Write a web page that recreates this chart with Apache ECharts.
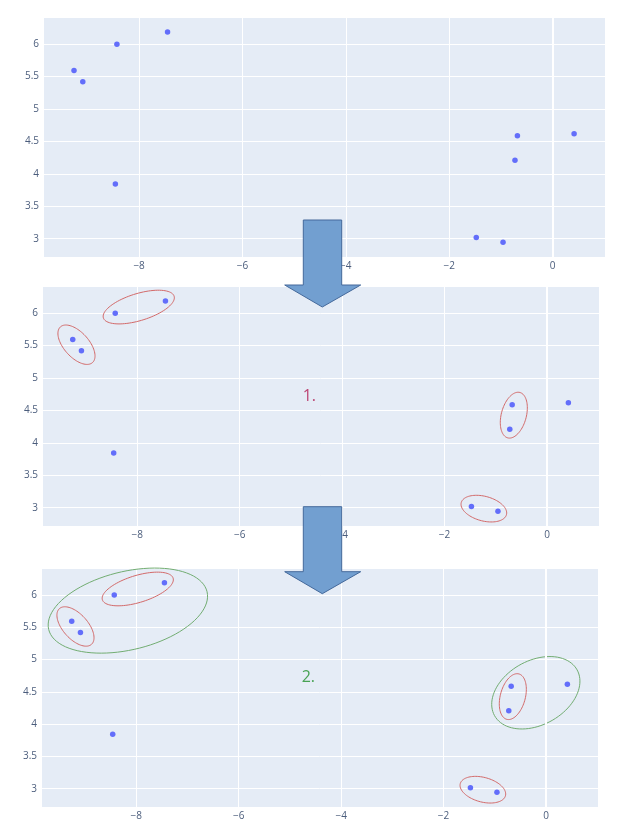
<!DOCTYPE html>
<html>
<head>
    <meta charset="utf-8" />
    <title>Clustering steps</title>
    <script src="https://cdn.jsdelivr.net/npm/echarts@6/dist/echarts.min.js"></script>
    <style>
        html, body { margin: 0; padding: 0; background: #fff; }
        #main { width: 628px; height: 826px; }
    </style>
</head>
<body>
<div id="main"></div>
<script type="text/javascript">
    // point coordinates
    var xs = [-7.45, -8.43, -9.26, -9.09, -8.46, -0.68, 0.417, -0.727, -1.476, -0.958];
    var ys = [6.19, 6.0, 5.594, 5.42, 3.843, 4.588, 4.619, 4.208, 3.016, 2.944];

    // step labels
    var stepLabels = ['1.', '2.'];
    var stepLabelPos = [-4.64, 4.72];

    // ellipse annotations: [centre x, centre y] in data units
    var redCentres = [[-7.971, 6.095], [-9.187, 5.514], [-0.648, 4.427], [-1.233, 2.985]];
    var greenCentres = [[-8.164, 5.76], [-0.199, 4.487]];
    // shape in pixels: [rx, ry, angle deg]
    var redShapes = [[37, 13.5, -17], [24, 12.5, 48], [23.5, 12.5, -75], [23.4, 12.3, 15]];
    var greenShapes = [[81.4, 39.2, -13.4], [47.2, 32.1, -29]];

    var points = xs.map(function (x, i) { return [x, ys[i]]; });

    function minus(v) {
        return String(v).replace('-', '\u2212');
    }

    function ellipseItem(color, shapes) {
        return function (params, api) {
            var c = api.coord([api.value(0), api.value(1)]);
            var s = shapes[params.dataIndex];
            var a = s[2] * Math.PI / 180;
            var pts = [];
            for (var k = 0; k <= 90; k++) {
                var t = k / 90 * Math.PI * 2;
                var ex = s[0] * Math.cos(t), ey = s[1] * Math.sin(t);
                pts.push([c[0] + ex * Math.cos(a) - ey * Math.sin(a),
                          c[1] + ex * Math.sin(a) + ey * Math.cos(a)]);
            }
            return {
                type: 'polyline',
                shape: { points: pts },
                style: { stroke: color, lineWidth: 1, fill: null }
            };
        };
    }

    var grids = [
        { left: 43, top: 17, width: 562, height: 240 },
        { left: 42, top: 286, width: 557, height: 240 },
        { left: 41, top: 568, width: 557, height: 239 }
    ];

    var font = '"Open Sans", Arial, sans-serif';
    var labelColor = '#4b5d7c';

    var option = {
        animation: false,
        textStyle: { fontFamily: font },
        grid: grids.map(function (g) {
            return Object.assign({ show: true, backgroundColor: '#e5ecf6', borderWidth: 0 }, g);
        }),
        xAxis: grids.map(function (g, i) {
            return {
                type: 'value', gridIndex: i,
                min: -9.86, max: 1.015, splitNumber: 5,
                axisLine: { show: false }, axisTick: { show: false },
                splitLine: { lineStyle: { color: '#ffffff', width: 1 } },
                axisLabel: {
                    color: labelColor, fontSize: 10, margin: 4,
                    showMinLabel: false, showMaxLabel: false,
                    formatter: minus
                }
            };
        }),
        yAxis: grids.map(function (g, i) {
            return {
                type: 'value', gridIndex: i,
                min: 2.717, max: 6.42, splitNumber: 7,
                axisLine: { show: false }, axisTick: { show: false },
                splitLine: { lineStyle: { color: '#ffffff', width: 1 } },
                axisLabel: {
                    color: labelColor, fontSize: 10, margin: 4,
                    showMinLabel: false, showMaxLabel: false
                }
            };
        }),
        series: []
    };

    grids.forEach(function (g, i) {
        option.series.push({
            type: 'scatter', xAxisIndex: i, yAxisIndex: i,
            data: points, symbolSize: 5.5,
            itemStyle: { color: '#636efa', opacity: 1 },
            markLine: {
                silent: true, symbol: 'none', label: { show: false },
                lineStyle: { color: '#ffffff', width: 2, type: 'solid' },
                data: [{ xAxis: 0 }]
            },
            z: 3
        });
    });

    // red ellipses on panels 2 and 3
    [1, 2].forEach(function (i) {
        option.series.push({
            type: 'custom', xAxisIndex: i, yAxisIndex: i,
            data: redCentres, renderItem: ellipseItem('#d36a6a', redShapes),
            silent: true, z: 4
        });
    });
    // green ellipses on panel 3
    option.series.push({
        type: 'custom', xAxisIndex: 2, yAxisIndex: 2,
        data: greenCentres, renderItem: ellipseItem('#72ad72', greenShapes),
        silent: true, z: 4
    });

    // step numbers
    var stepColors = ['#b01850', '#21902b'];
    stepLabels.forEach(function (txt, k) {
        option.series.push({
            type: 'scatter', xAxisIndex: k + 1, yAxisIndex: k + 1,
            data: [stepLabelPos], symbolSize: 0, silent: true,
            label: {
                show: true, position: 'inside', formatter: txt,
                fontSize: 16, color: stepColors[k], fontFamily: font
            },
            z: 5
        });
    });

    // block arrows between panels
    function arrow(top) {
        return {
            type: 'polygon', z: 100,
            shape: {
                points: [
                    [303.3, top], [341.7, top], [341.7, top + 65],
                    [360.7, top + 65], [322.3, top + 87], [284.7, top + 65],
                    [303.3, top + 65]
                ]
            },
            style: { fill: '#729fd0', stroke: '#44699b', lineWidth: 1 }
        };
    }
    option.graphic = [arrow(220), arrow(506.7)];

    var myChart = echarts.init(document.getElementById('main'));
    myChart.setOption(option);
</script>
</body>
</html>
